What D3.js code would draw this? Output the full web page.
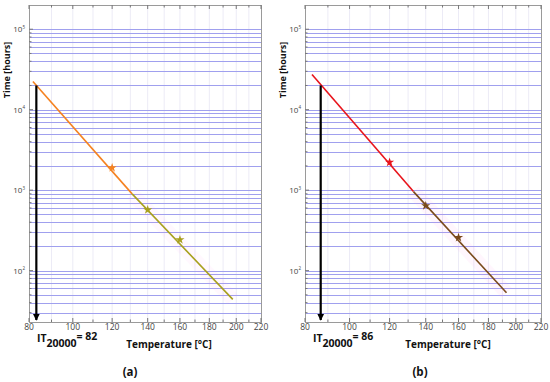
<!DOCTYPE html>
<html>
<head>
<meta charset="utf-8">
<script src="https://cdn.jsdelivr.net/npm/d3@7"></script>
<style>
  body { margin: 0; background: #fff; }
  svg { display: block; }
  text { font-family: "Open Sans", Arial, sans-serif; }
</style>
</head>
<body>
<svg id="chart" width="550" height="382"></svg>
<script>
// temperatures in °C, times in hours
const tempTicks = [80, 100, 120, 140, 160, 180, 200, 220]
const tempMinor = [90, 110, 130, 150, 170, 190, 210]
const timeDecades = [100, 1000, 10000, 100000]

// panel (a)
const aLineTemps = [81.7, 131, 197.3]
const aLineTimes = [22400, 900, 44]
const aStarTemps = [120, 140, 160]
const aStarTimes = [1900, 570, 242]
const aIT = 82

// panel (b)
const bLineTemps = [83, 133, 193]
const bLineTimes = [27400, 960, 53]
const bStarTemps = [120, 140, 160]
const bStarTimes = [2220, 640, 258]
const bIT = 86

const svg = d3.select('#chart')

svg.append('defs').append('marker')
  .attr('id', 'arrow')
  .attr('viewBox', '0 0 10 10')
  .attr('refX', 9).attr('refY', 5)
  .attr('markerWidth', 3.2).attr('markerHeight', 4)
  .attr('markerUnits', 'strokeWidth')
  .attr('orient', 'auto')
  .append('path').attr('d', 'M0,0 L10,5 L0,10 Z').attr('fill', '#000')

function drawPanel(opts) {
  const { left, right, top, bottom } = opts
  // reciprocal absolute temperature axis (Arrhenius)
  const inv = d3.scaleLinear()
    .domain([1 / (80 + 273.15), 1 / (220 + 273.15)])
    .range([left, right])
  const x = t => inv(1 / (t + 273.15))
  const y = d3.scaleLog().domain([23, 200000]).range([bottom, top])

  const g = svg.append('g')

  // vertical grid (every 10 °C)
  g.selectAll('.vgrid')
    .data(tempTicks.concat(tempMinor).filter(t => t > 80 && t < 220))
    .enter().append('line')
    .attr('x1', d => x(d)).attr('x2', d => x(d))
    .attr('y1', top).attr('y2', bottom)
    .attr('stroke', '#ecebf6').attr('stroke-width', 1)

  // horizontal grid (log minor + major)
  const hvals = []
  ;[10, 100, 1000, 10000, 100000].forEach(dec => {
    for (let m = 1; m <= 9; m++) {
      const v = dec * m
      if (v > 23 && v < 200000) hvals.push(v)
    }
  })
  g.selectAll('.hgrid')
    .data(hvals)
    .enter().append('line')
    .attr('x1', left).attr('x2', right)
    .attr('y1', d => Math.round(y(d)) + 0.5).attr('y2', d => Math.round(y(d)) + 0.5)
    .attr('stroke', '#a0a0ee').attr('stroke-width', 1)
    .attr('shape-rendering', 'crispEdges')

  // frame
  g.append('rect')
    .attr('x', left + 0.5).attr('y', top + 0.5)
    .attr('width', right - left).attr('height', bottom - top)
    .attr('fill', 'none').attr('stroke', '#9a9a9a').attr('stroke-width', 1)

  // x ticks top and bottom (inward)
  const allT = tempTicks.concat(tempMinor)
  allT.forEach(t => {
    const len = tempTicks.includes(t) ? 4 : 2.5
    g.append('line').attr('x1', x(t)).attr('x2', x(t))
      .attr('y1', bottom).attr('y2', bottom - len).attr('stroke', '#777')
    g.append('line').attr('x1', x(t)).attr('x2', x(t))
      .attr('y1', top).attr('y2', top + len).attr('stroke', '#777')
  })
  // y ticks left (inward)
  hvals.forEach(v => {
    const len = timeDecades.includes(v) ? 4 : 2.5
    g.append('line').attr('x1', left).attr('x2', left + len)
      .attr('y1', y(v)).attr('y2', y(v)).attr('stroke', '#777')
  })

  // x tick labels
  g.selectAll('.xl')
    .data(tempTicks)
    .enter().append('text')
    .attr('x', d => x(d)).attr('y', bottom + 7.5)
    .attr('text-anchor', 'middle')
    .attr('font-size', 8.5).attr('fill', '#444')
    .text(d => d)

  // y tick labels 10^n
  timeDecades.forEach(v => {
    const t = g.append('text')
      .attr('x', left - 4).attr('y', y(v) + 3)
      .attr('text-anchor', 'end')
      .attr('font-size', 8).attr('fill', '#444')
    t.append('tspan').text('10')
    t.append('tspan').attr('font-size', 4.5).attr('dy', -3.5).text(Math.log10(v))
  })

  // y title
  g.append('text')
    .attr('transform', `translate(${left - 19},70) rotate(-90)`)
    .attr('text-anchor', 'middle')
    .attr('font-size', 9).attr('font-weight', 'bold').attr('fill', '#111')
    .text('Time [hours]')

  // x title
  g.append('text')
    .attr('x', opts.xTitleX).attr('y', bottom + 26)
    .attr('text-anchor', 'middle')
    .attr('font-size', 10).attr('font-weight', 'bold').attr('fill', '#111')
    .text('Temperature [°C]')

  // faint band along the lower part of the line
  g.append('line')
    .attr('x1', x(opts.lineT[1])).attr('y1', y(opts.lineV[1]))
    .attr('x2', x(opts.lineT[2])).attr('y2', y(opts.lineV[2]))
    .attr('stroke', '#ff8fe8').attr('stroke-opacity', opts.bandOpacity)
    .attr('stroke-width', 14)

  // line, two colours
  const segs = [
    { a: 0, b: 1, c: opts.c1 },
    { a: 1, b: 2, c: opts.c2 }
  ]
  segs.forEach(s => {
    g.append('line')
      .attr('x1', x(opts.lineT[s.a])).attr('y1', y(opts.lineV[s.a]))
      .attr('x2', x(opts.lineT[s.b])).attr('y2', y(opts.lineV[s.b]))
      .attr('stroke', s.c).attr('stroke-width', 1.6)
  })

  // stars
  const star = d3.symbol().type(d3.symbolStar).size(26)
  opts.starT.forEach((t, i) => {
    g.append('path')
      .attr('d', star())
      .attr('transform', `translate(${x(t)},${y(opts.starV[i])})`)
      .attr('fill', t < opts.lineT[1] ? opts.c1 : opts.c2)
  })

  // arrow at IT20000
  const ax = x(opts.arrowT)
  g.append('line')
    .attr('x1', ax).attr('x2', ax)
    .attr('y1', y(20000)).attr('y2', bottom - 2)
    .attr('stroke', '#000').attr('stroke-width', 2.2)
    .attr('marker-end', 'url(#arrow)')

  // IT label
  const it = g.append('text')
    .attr('x', left + 8).attr('y', bottom + 19.5)
    .attr('font-size', 10.5).attr('font-weight', 'bold').attr('fill', '#111')
  it.append('tspan').text('IT')
  it.append('tspan').attr('dy', 5).text('20000')
  it.append('tspan').attr('dy', -7).text('= ' + opts.itLabel)

  // panel letter
  svg.append('text')
    .attr('x', opts.letterX).attr('y', 376)
    .attr('text-anchor', 'middle')
    .attr('font-family', '"Liberation Serif", "DejaVu Serif", serif')
    .attr('font-size', 11.5).attr('font-weight', 'bold').attr('fill', '#111')
    .text(opts.letter)
}

drawPanel({
  left: 29, right: 261, top: 5, bottom: 322,
  lineT: aLineTemps, lineV: aLineTimes,
  starT: aStarTemps, starV: aStarTimes,
  c1: '#f58220', c2: '#a8a01e', bandOpacity: 0.06,
  arrowT: 83.2, itLabel: aIT,
  xTitleX: 169, letterX: 130, letter: '(a)'
})

drawPanel({
  left: 305, right: 541, top: 5, bottom: 322,
  lineT: bLineTemps, lineV: bLineTimes,
  starT: bStarTemps, starV: bStarTimes,
  c1: '#e8141c', c2: '#7a4a1c', bandOpacity: 0.08,
  arrowT: bIT + 0.8, itLabel: bIT,
  xTitleX: 448, letterX: 420, letter: '(b)'
})
</script>
</body>
</html>
